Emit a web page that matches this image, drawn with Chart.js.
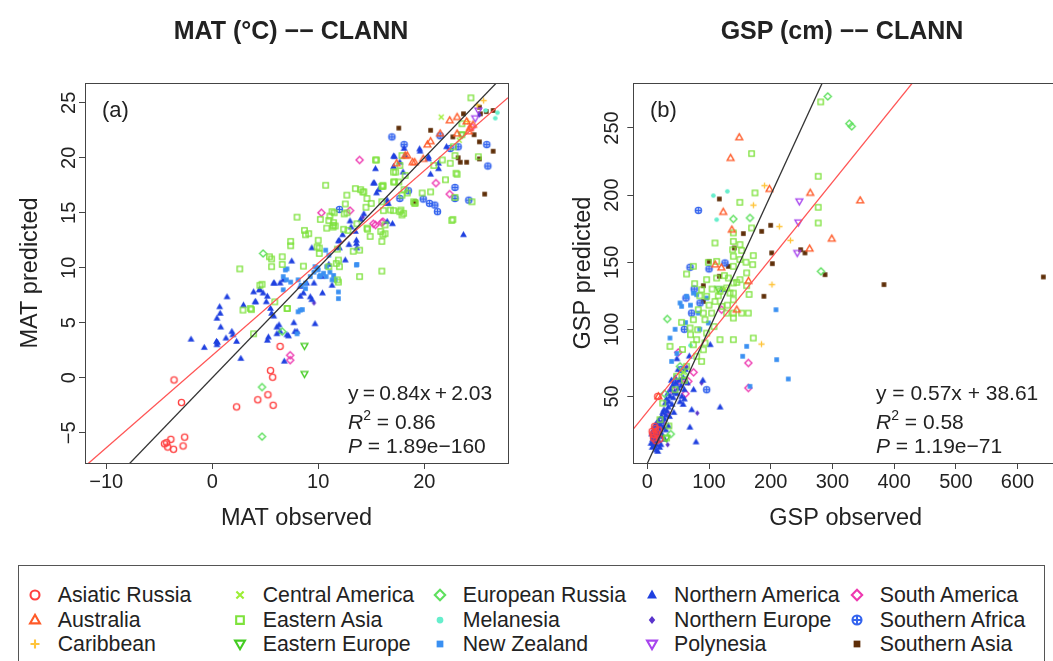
<!DOCTYPE html>
<html><head><meta charset="utf-8">
<script src="https://cdn.jsdelivr.net/npm/chart.js@4.4.1/dist/chart.umd.min.js"></script>
<style>
html,body{margin:0;padding:0;background:#fff;}
body{width:1053px;height:661px;overflow:hidden;position:relative;font-family:"Liberation Sans",Arial,sans-serif;color:#222;}
.abs{position:absolute;white-space:nowrap;}
.title{font-weight:bold;font-size:25px;transform:translate(-50%,-50%);}
.pl{font-size:22px;transform:translateY(-50%);}
.st{font-size:21px;transform:translateY(-50%);}
#legend{position:absolute;left:18px;top:565px;width:1027px;height:110px;border:1.5px solid #555;box-sizing:border-box;}
.lt{font-size:21.3px;transform:translateY(-50%);}
.lm{position:absolute;transform:translate(-50%,-50%);}
</style></head><body>
<canvas id="ca" width="530" height="560" style="position:absolute;left:0;top:0"></canvas>
<canvas id="cb" width="540" height="560" style="position:absolute;left:530px;top:0"></canvas>
<div id="legend"></div>
<script>
// ---------------- data ----------------
const regions = ['Asiatic Russia','Australia','Caribbean','Central America','Eastern Asia','Eastern Europe','European Russia','Melanesia','New Zealand','Northern America','Northern Europe','Polynesia','South America','Southern Africa','Southern Asia'];
const regionColors = ['#ff4040','#ff5a28','#ffc43a','#9cee35','#7ee23c','#44cc22','#5ee05e','#66eecc','#3a90f2','#1f40e0','#5a34cc','#a845ee','#ee38b0','#3464ee','#5e2e08'];
const regionShapes = ['circle','triangle','plus','cross','square','triDown','diamond','dot','fsquare','ftriangle','fdiamond','triDown','diamond','circlePlus','fsquare'];

// MAT panel: [observed, predicted]
const mat_AsiaticRussia = [[-3.6,-0.2],[-2.9,-2.25],[-4.3,-5.9],[-3.9,-5.6],[-4.2,-6.3],[-3.65,-6.5],[-2.6,-5.4],[-2.75,-6.2],[-4.5,-6.0],[6.4,2.85],[5.5,0.65],[5.7,0.05],[5.25,-1.55],[4.3,-2.0],[5.75,-2.5],[2.3,-2.65]];
const mat_Australia = [[22.4,23.4],[23.1,23.7],[24.0,23.3],[20.6,21.5],[20.3,21.2],[18.9,19.6],[18.4,20.2],[24.3,22.7],[24.2,22.4],[19.1,19.6],[17.4,19.5],[18.2,20.2],[19.9,19.9],[23.1,22.2],[21.5,22.2],[24.6,23.0]];
const mat_Caribbean = [[25.6,25.2],[24.1,23.3],[25.0,24.8]];
const mat_CentralAmerica = [[21.6,23.7],[23.3,21.6]];
const mat_EasternAsia = [[2.6,9.9],[2.9,6.15],[3.7,6.2],[3.9,4.0],[5.4,11.0],[5.6,10.8],[6.6,11.0],[7.4,12.4],[8.0,14.6],[8.8,13.0],[9.1,13.1],[10.0,12.5],[9.9,11.9],[10.1,11.3],[10.7,17.5],[10.8,13.6],[11.1,14.7],[11.4,13.85],[11.6,13.8],[11.8,11.7],[11.9,10.7],[12.0,10.1],[11.8,8.9],[11.9,8.7],[12.4,13.5],[12.7,16.6],[12.7,15.0],[13.5,17.2],[14.0,17.1],[14.3,16.9],[14.6,16.3],[14.5,15.5],[14.65,13.5],[14.9,12.85],[15.4,19.8],[16.0,17.4],[16.0,16.0],[16.15,15.2],[16.3,13.9],[16.1,13.0],[16.0,9.7],[17.1,15.2],[17.7,15.1],[17.9,14.8],[17.3,18.7],[17.6,17.8],[17.7,19.3],[17.9,20.2],[18.2,18.4],[18.4,16.8],[19.0,16.0],[19.15,15.9],[20.6,16.9],[22.0,18.0],[22.6,14.3],[22.45,19.5],[23.1,18.5],[22.9,20.2],[22.75,21.0],[24.5,16.0],[24.4,25.45],[23.55,23.1],[25.1,20.1],[13.9,9.2],[23.55,22.1],[13.3,11.5],[11.45,14.1],[11.5,15.0],[23.0,18.6],[22.9,16.4],[22.7,14.4],[19.8,16.8],[19.1,15.85],[21.7,19.8],[20.9,19.3],[17.1,18.7],[17.1,17.8],[16.1,17.5],[17.9,16.6],[17.8,15.25],[16.8,15.25],[18.05,14.95],[16.3,13.1],[16.0,12.4],[15.5,19.8],[14.2,16.9],[15.0,15.85],[16.1,17.4],[12.55,15.8],[12.45,14.9],[11.3,15.1],[10.2,14.4],[11.0,14.3],[8.7,13.4],[10.1,11.8],[11.4,13.7],[12.8,13.4],[13.65,14.0],[14.6,13.6],[15.9,13.3],[17.2,17.8],[18.1,17.1],[13.9,11.6],[11.7,10.4],[7.4,12.0],[5.6,10.1],[6.6,10.3],[7.1,6.3],[4.5,8.4],[3.6,6.3],[8.6,10.15],[11.0,10.1],[4.7,8.5],[5.9,6.9],[7.05,6.3]];
const mat_EasternEurope = [[8.7,2.9],[8.7,0.35],[23.55,22.1]];
const mat_EuropeanRussia = [[4.8,11.3],[4.7,-0.85],[4.7,-5.35],[6.6,4.2]];
const mat_Melanesia = [[25.8,24.3],[26.7,23.6],[26.9,24.1]];
const mat_NewZealand = [[6.9,9.8],[7.0,8.9],[6.7,9.2],[8.1,8.9],[8.4,8.4],[8.5,6.2],[8.8,8.1],[9.25,9.2],[9.6,9.6],[9.7,10.1],[10.0,9.8],[10.5,9.5],[10.8,10.1],[11.1,9.6],[11.45,9.3],[11.6,8.9],[11.9,7.8],[11.9,7.2],[10.7,11.6],[11.0,11.15],[13.65,10.3],[8.3,6.15],[10.1,9.2],[7.05,9.9],[7.4,8.7],[8.8,8.6],[9.9,10.0],[10.2,9.3],[10.75,9.2],[11.3,8.9],[13.6,10.25],[8.1,6.0],[6.7,8.0],[8.0,4.0]];
const mat_NorthernAmerica = [[-2.0,3.5],[-0.75,2.75],[0.4,3.3],[0.45,3.0],[0.7,6.45],[0.75,5.85],[1.4,7.35],[0.8,4.6],[1.3,3.6],[1.85,4.2],[1.95,3.9],[2.3,3.3],[2.7,1.75],[2.95,6.6],[4.05,6.9],[3.9,7.8],[4.5,8.0],[4.8,7.7],[5.1,6.9],[5.5,6.3],[5.6,5.85],[5.8,8.6],[6.7,8.9],[6.4,8.6],[6.8,1.5],[5.3,3.7],[6.1,4.6],[6.4,4.2],[7.2,3.8],[7.7,5.0],[8.0,4.2],[7.5,10.6],[8.3,8.3],[8.6,7.7],[8.9,8.6],[9.25,7.35],[9.7,4.9],[9.6,8.6],[10.35,9.2],[11.0,10.3],[12.0,12.45],[12.55,10.7],[13.1,13.7],[13.5,13.3],[13.6,12.2],[14.3,14.9],[15.2,17.7],[15.4,19.0],[15.7,17.1],[16.5,16.15],[17.0,14.0],[17.1,20.15],[17.1,19.2],[17.7,19.6],[18.0,18.7],[18.2,20.2],[19.6,20.6],[20.4,19.9],[21.35,19.5],[22.1,21.0],[23.7,13.0],[0.45,5.4],[0.5,3.2],[5.2,7.4],[4.45,8.0],[5.8,5.6],[6.3,4.8],[6.1,4.0],[5.2,3.4],[7.05,3.9],[7.8,4.2],[15.3,17.7],[15.5,16.8],[16.5,15.85],[14.0,14.4],[13.0,14.25],[11.9,12.45],[12.0,11.8],[12.9,12.1],[13.6,12.5],[13.65,11.8],[9.4,11.8],[5.85,8.6],[4.1,6.9],[8.3,7.4],[9.4,7.1],[10.4,7.7],[11.3,8.4],[18.1,20.85],[17.2,20.1],[19.56,20.8],[20.4,20.1],[20.6,18.5],[21.35,19.0],[16.6,15.85],[16.5,14.2],[12.3,13.0]];
const mat_NorthernEurope = [[9.6,6.8],[25.2,23.9],[14.2,14.6]];
const mat_Polynesia = [[25.1,24.3],[24.8,23.6]];
const mat_SouthAmerica = [[7.35,2.05],[7.35,1.6],[13.9,19.8],[10.3,15.0],[13.0,15.2],[15.2,14.0],[16.0,14.1],[22.4,16.7],[21.1,17.7],[24.5,22.8],[16.1,14.2],[15.4,13.9]];
const mat_SouthernAfrica = [[25.9,21.2],[26.0,19.25],[23.2,21.0],[21.5,22.0],[22.9,17.3],[24.2,16.15],[19.9,16.25],[20.5,15.85],[21.0,15.7],[21.25,15.1],[17.7,16.3],[22.9,16.3],[16.95,21.9],[18.1,21.2],[12.0,15.3],[22.45,20.85],[18.5,17.0]];
const mat_SouthernAsia = [[17.6,22.7],[20.6,22.5],[22.7,21.9],[25.3,24.0],[25.85,24.2],[26.5,24.3],[25.2,24.6],[24.7,22.1],[25.2,21.45],[26.5,20.6],[25.2,19.9],[24.0,19.6],[23.4,19.6],[23.2,20.0],[25.7,16.7],[19.15,16.0],[23.7,24.0]];

// GSP panel: [observed, predicted]
const gsp_AsiaticRussia = [[12,27.7],[15,22.7],[10,19],[18,25],[20,18.3],[11,21.5],[8,24],[14,17],[17,50],[13,26],[9,22]];
const gsp_Australia = [[149,243],[135,227.6],[123,187.4],[137,174.2],[110,148.2],[198,204.5],[264,201.6],[345,196],[299,167.5],[263,160.1],[164,136],[145,114.6],[18,50],[120,146]];
const gsp_Caribbean = [[190,207],[172,192.5],[214,176.5],[232,166.3],[202,133.3],[185,89]];
const gsp_CentralAmerica = [[58,68],[125,130]];
const gsp_EasternAsia = [[281,269.4],[169,230.9],[174.5,201.6],[150,194.6],[169,175.5],[109.7,164.3],[150.2,163.1],[277,214],[277,190.9],[277,179.2],[139.4,171.8],[139.4,165.5],[138.3,159.3],[152.9,158.8],[139.4,154.4],[171.8,154.9],[170.7,148.2],[161,142],[139.4,146.9],[150.2,137],[139.4,134.5],[131.3,138.2],[139.4,127],[139.4,122],[128.6,130.8],[161,132.5],[63.7,141.2],[74.6,146.9],[76.7,134],[88,129.5],[96.2,124.6],[112.4,138.2],[112.4,150.6],[98.9,149.9],[96.2,137],[117.8,128.3],[109.7,120.8],[104.3,112.1],[90.8,112.1],[82.6,114.6],[74.6,107.2],[55.6,105.2],[69.2,101],[81.6,99.7],[93.5,107.2],[96.2,97.2],[80,92.3],[74.6,88.5],[90.8,84.8],[88,76.1],[80,79.9],[93.5,89.8],[117.8,92.3],[139.4,92.3],[139.4,108.4],[139.4,112.1],[152.9,112.1],[163.6,112.1],[171.8,93.5],[128.6,112.1],[120.5,117.1],[134,127],[63.7,72.4],[47.5,65],[36.7,87.3],[31.3,19],[20.5,32.7],[45,55],[60,62],[25,45],[35,28],[57,85],[105,130],[125,140],[115,125],[100,118],[85,125],[70,96],[150,152],[160,150],[165,126],[108,102],[130,118],[145,135]];
const gsp_EasternEurope = [[31,19],[115,130]];
const gsp_EuropeanRussia = [[292.5,273.5],[327.4,253.2],[331.3,251.2],[32.4,107.7],[281.5,143.2],[166.4,183],[139.4,182.2],[53,72.4],[28,52],[38,22],[60,66]];
const gsp_Melanesia = [[107,199.6],[129.7,202.8],[112.4,181.7],[70,88]];
const gsp_NewZealand = [[36.7,93.5],[53,119.6],[55.6,117.1],[63.7,124.6],[74.6,127],[80,125.8],[82.6,112.1],[98.9,104.7],[96.2,123.3],[161,87.3],[154.5,79.9],[208.5,114.6],[209.6,77.4],[228.5,63],[166.4,57.5],[39.4,76.1],[45,100],[62,105],[48,82],[70,118],[85,100]];
const gsp_NorthernAmerica = [[8,12],[10,15],[12,13],[9,18],[14,16],[11,20],[15,14],[13,22],[16,19],[18,17],[7,22],[10,25],[12,28],[17,24],[19,21],[20,26],[22,23],[15,30],[18,32],[21,29],[24,31],[26,27],[23,35],[25,38],[28,33],[30,36],[27,40],[32,39],[34,42],[29,45],[31,48],[35,46],[37,50],[33,52],[40,44],[38,55],[42,49],[44,53],[41,58],[46,60],[48,52],[50,56],[45,64],[52,62],[55,58],[39,62],[36,35],[43,38],[30,25],[25,20],[20,12],[28,18],[34,28],[53,46],[56,50],[60,55],[58,64],[62,70],[50,70],[48,78],[65,60],[60,48],[14,10],[6,15],[17,9],[22,14],[118,42],[69,27],[79,16],[102,88.5],[123,129.5],[90,62],[75,55],[68,80],[58,44],[72,40]];
const gsp_NorthernEurope = [[81,37.6],[88,60],[64,72],[33,14]];
const gsp_Polynesia = [[246.4,195.4],[244.8,179.7],[243,156.9]];
const gsp_SouthAmerica = [[163.7,74.9],[163.7,56.3],[50.2,82.8],[66.4,61.3],[53,61.3],[120.5,114.6],[40,55],[62,52],[75,68],[25,30],[30,38],[12,20]];
const gsp_SouthernAfrica = [[82.7,188.6],[69.2,146.2],[71.9,112.1],[85.4,119.6],[96.2,55],[125.9,149.4],[62.7,123.3],[60,100],[76,130],[45,60],[55,70],[100,145]];
const gsp_SouthernAsia = [[116.7,197.1],[100,150.6],[90.8,132.5],[90.8,120.8],[116.7,139.5],[131.3,146.9],[141,160.6],[155.6,171.3],[199.9,177.5],[185.3,173],[201.5,156.9],[202.6,148.9],[189,124.6],[248.5,159.3],[255.5,156.9],[288,140.7],[383.6,133.3],[641.8,139]];

const matSeries = [mat_AsiaticRussia,mat_Australia,mat_Caribbean,mat_CentralAmerica,mat_EasternAsia,mat_EasternEurope,mat_EuropeanRussia,mat_Melanesia,mat_NewZealand,mat_NorthernAmerica,mat_NorthernEurope,mat_Polynesia,mat_SouthAmerica,mat_SouthernAfrica,mat_SouthernAsia];
const gspSeries = [gsp_AsiaticRussia,gsp_Australia,gsp_Caribbean,gsp_CentralAmerica,gsp_EasternAsia,gsp_EasternEurope,gsp_EuropeanRussia,gsp_Melanesia,gsp_NewZealand,gsp_NorthernAmerica,gsp_NorthernEurope,gsp_Polynesia,gsp_SouthAmerica,gsp_SouthernAfrica,gsp_SouthernAsia];

// fits: [slope, intercept]
const matFit = [0.84, 2.03];
const gspFit = [0.57, 38.61];
const identityFit = [1, 0];

// axis ranges and ticks
const matXRange = [-12.0, 27.9], matYRange = [-7.75, 26.8];
const gspXRange = [-22.7, 665.6], gspYRange = [0.4, 283.5];
const matXStep = 10, matYStep = 5, gspXStep = 100, gspYStep = 50;

// text
const matTitle = 'MAT (\u00B0C) \u2212\u2212 CLANN';
const gspTitle = 'GSP (cm) \u2212\u2212 CLANN';
const matStats = ['y\u2009=\u20090.84x\u2009+\u20092.03', '0.86', '1.89e\u2212160'];
const gspStats = ['y = 0.57x + 38.61', '0.58', '1.19e\u221271'];

// ---------------- markers ----------------
function marker(shape, color, size, lw) {
  const pad = Math.ceil(lw) + 2;
  const s = Math.ceil(size * 1.3) + pad * 2;
  const c = document.createElement('canvas'); c.width = s; c.height = s;
  const g = c.getContext('2d');
  const m = s / 2, r = size / 2;
  g.strokeStyle = color; g.fillStyle = color; g.lineWidth = lw;
  g.beginPath();
  switch (shape) {
    case 'circle': g.arc(m, m, r, 0, 2 * Math.PI); g.stroke(); break;
    case 'triangle': g.moveTo(m, m - r * 1.15); g.lineTo(m + r * 1.1, m + r * 0.75); g.lineTo(m - r * 1.1, m + r * 0.75); g.closePath(); g.stroke(); break;
    case 'triDown': g.moveTo(m, m + r * 1.15); g.lineTo(m + r * 1.1, m - r * 0.75); g.lineTo(m - r * 1.1, m - r * 0.75); g.closePath(); g.stroke(); break;
    case 'ftriangle': g.moveTo(m, m - r * 1.2); g.lineTo(m + r * 1.1, m + r * 0.75); g.lineTo(m - r * 1.1, m + r * 0.75); g.closePath(); g.fill(); break;
    case 'plus': g.moveTo(m - r, m); g.lineTo(m + r, m); g.moveTo(m, m - r); g.lineTo(m, m + r); g.stroke(); break;
    case 'cross': { const k = r * 0.8; g.moveTo(m - k, m - k); g.lineTo(m + k, m + k); g.moveTo(m + k, m - k); g.lineTo(m - k, m + k); g.stroke(); break; }
    case 'square': { const k = r * 0.85; g.rect(m - k, m - k, 2 * k, 2 * k); g.stroke(); break; }
    case 'fsquare': { const k = r * 0.75; g.rect(m - k, m - k, 2 * k, 2 * k); g.fill(); break; }
    case 'diamond': { const k = r * 1.15; g.moveTo(m, m - k); g.lineTo(m + k, m); g.lineTo(m, m + k); g.lineTo(m - k, m); g.closePath(); g.stroke(); break; }
    case 'fdiamond': { const k = r * 0.9; g.moveTo(m, m - k); g.lineTo(m + k * 0.8, m); g.lineTo(m, m + k); g.lineTo(m - k * 0.8, m); g.closePath(); g.fill(); break; }
    case 'dot': g.arc(m, m, r * 0.75, 0, 2 * Math.PI); g.fill(); break;
    case 'circlePlus': g.arc(m, m, r, 0, 2 * Math.PI); g.moveTo(m - r, m); g.lineTo(m + r, m); g.moveTo(m, m - r); g.lineTo(m, m + r); g.stroke(); break;
  }
  return c;
}

// ---------------- charts ----------------
const FONT = '"Liberation Sans", Arial, sans-serif';
const fmt = v => String(v).replace('-', '\u2212');

const boxPlugin = {
  id: 'box',
  afterDatasetsDraw(chart) {
    const { ctx, chartArea: a } = chart;
    ctx.save(); ctx.strokeStyle = '#444'; ctx.lineWidth = 1;
    ctx.strokeRect(Math.round(a.left) + 0.5, Math.round(a.top) + 0.5, Math.round(a.right - a.left), Math.round(a.bottom - a.top));
    ctx.restore();
  }
};

function fitLine(fit, xr, color) {
  return {
    type: 'line', data: [{ x: xr[0], y: fit[0] * xr[0] + fit[1] }, { x: xr[1], y: fit[0] * xr[1] + fit[1] }],
    borderColor: color, borderWidth: 1.3, pointRadius: 0, fill: false, tension: 0
  };
}

function makeChart(id, series, fit, xr, yr, xs, ys, xTitle, yTitle, yWidth, padRight, yTitlePad) {
  const datasets = [fitLine(identityFit, xr, '#333'), fitLine(fit, xr, '#ff5555')];
  series.forEach((pts, i) => {
    datasets.push({
      label: regions[i], data: pts.map(p => ({ x: p[0], y: p[1] })),
      pointStyle: marker(regionShapes[i], regionColors[i], 6.2, 1.35), pointRadius: 3
    });
  });
  return new Chart(document.getElementById(id), {
    type: 'scatter',
    data: { datasets },
    plugins: [boxPlugin],
    options: {
      responsive: false, animation: false, devicePixelRatio: 1,
      layout: { padding: { top: 83, right: padRight, bottom: 0, left: 0 } },
      plugins: { legend: { display: false }, tooltip: { enabled: false } },
      scales: {
        x: {
          type: 'linear', min: xr[0], max: xr[1],
          afterFit: s => { s.height = 97; },
          ticks: { stepSize: xs, includeBounds: false, autoSkip: false, maxRotation: 0, padding: 1, color: '#222', font: { family: FONT, size: 20 }, callback: v => fmt(v) },
          grid: { display: true, drawOnChartArea: false, drawTicks: true, tickLength: 6, color: '#444' },
          border: { display: false },
          title: { display: true, text: xTitle, color: '#222', font: { family: FONT, size: 23.5 }, padding: { top: 0, bottom: 27 } }
        },
        y: {
          type: 'linear', min: yr[0], max: yr[1],
          afterFit: s => { s.width = yWidth; },
          ticks: { stepSize: ys, includeBounds: false, autoSkip: false, minRotation: 90, maxRotation: 90, crossAlign: 'center', padding: -2, color: '#222', font: { family: FONT, size: 20 }, callback: v => fmt(v) },
          grid: { display: true, drawOnChartArea: false, drawTicks: true, tickLength: 6, color: '#444' },
          border: { display: false },
          title: { display: true, text: yTitle, color: '#222', font: { family: FONT, size: 23.5 }, padding: { top: yTitlePad, bottom: 0 } }
        }
      }
    }
  });
}

makeChart('ca', matSeries, matFit, matXRange, matYRange, matXStep, matYStep, 'MAT observed', 'MAT predicted', 85, 22, 16);
makeChart('cb', gspSeries, gspFit, gspXRange, gspYRange, gspXStep, gspYStep, 'GSP observed', 'GSP predicted', 103.3, 12, 39);

// ---------------- text overlays ----------------
function addText(cls, txt, left, top, html) {
  const d = document.createElement('div'); d.className = 'abs ' + cls;
  if (html) d.innerHTML = txt; else d.textContent = txt;
  d.style.left = left + 'px'; d.style.top = top + 'px';
  document.body.appendChild(d); return d;
}
addText('title', matTitle, 291, 30);
addText('title', gspTitle, 842, 30);
addText('pl', '(a)', 102, 110);
addText('pl', '(b)', 650, 110);
[[matStats, 348], [gspStats, 876]].forEach(([st, x]) => {
  addText('st', st[0], x, 393);
  addText('st', '<i>R</i><sup style="font-size:14px;vertical-align:9px">2</sup> = ' + st[1], x, 420, true);
  addText('st', '<i>P</i> = ' + st[2], x, 446, true);
});

// ---------------- legend ----------------
const legendTextX = [56.7, 261.7, 461.7, 673, 878.7];
const legendRowY = [593.5, 618.5, 643];
const lg = document.getElementById('legend');
regions.forEach((name, i) => {
  const col = Math.floor(i / 3), row = i % 3;
  const mk = marker(regionShapes[i], regionColors[i], 9, 2.1);
  mk.className = 'lm';
  mk.style.left = (legendTextX[col] - 22.5 - 18) + 'px';
  mk.style.top = (legendRowY[row] - 565) + 'px';
  lg.appendChild(mk);
  const t = document.createElement('div'); t.className = 'abs lt'; t.textContent = name;
  t.style.left = (legendTextX[col] - 18) + 'px'; t.style.top = (legendRowY[row] - 565) + 'px';
  lg.appendChild(t);
});
</script>
</body></html>
